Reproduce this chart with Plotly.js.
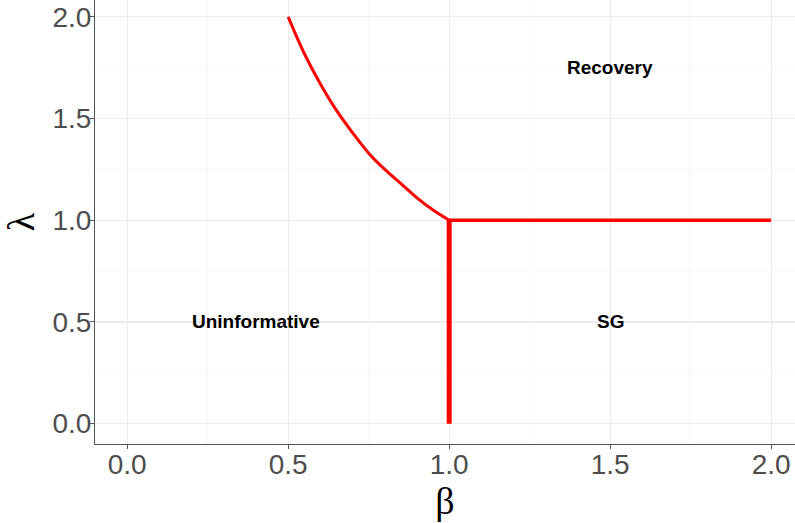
<!DOCTYPE html>
<html>
<head>
<meta charset="utf-8">
<script src="https://cdn.plot.ly/plotly-3.0.1.min.js"></script>
<style>html,body{margin:0;padding:0;background:#fff;}#plot{width:795px;height:523px;}</style>
</head>
<body>
<div id="plot"></div>
<script>
// Boundary curve
const curveBeta   = [0.5, 0.55, 0.6, 0.65, 0.7, 0.75, 0.8, 0.85, 0.9, 0.95, 1.0];
const curveLambda = [2.0, 1.82, 1.67, 1.54, 1.43, 1.33, 1.25, 1.18, 1.11, 1.05, 1.0];
// Horizontal boundary
const hBeta   = [1.0, 2.0];
const hLambda = [1.0, 1.0];
// Vertical boundary
const vBeta   = [1.0, 1.0];
const vLambda = [0.0, 1.0];
// Region labels
const labelText   = ["Recovery", "Uninformative", "SG"];
const labelBeta   = [1.5, 0.4, 1.5];
const labelLambda = [1.75, 0.5, 0.5];
const tickVals = [0, 0.5, 1, 1.5, 2];
const tickText = ["0.0", "0.5", "1.0", "1.5", "2.0"];

const traces = [
  {x: curveBeta, y: curveLambda, mode: 'lines', line: {color: '#ff0000', width: 3, shape: 'spline', smoothing: 1}, hoverinfo: 'skip'},
  {x: hBeta, y: hLambda, mode: 'lines', line: {color: '#ff0000', width: 3.5}, hoverinfo: 'skip'},
  {x: vBeta, y: vLambda, mode: 'lines', line: {color: '#ff0000', width: 5}, hoverinfo: 'skip'}
];

const annotations = labelText.map((t, i) => ({
  x: labelBeta[i], y: labelLambda[i], xref: 'x', yref: 'y',
  text: '<b>' + t + '</b>', showarrow: false,
  font: {family: 'Liberation Sans, Arial, sans-serif', size: 19, color: '#000'}
}));

const axisCommon = {
  showline: true, linecolor: '#555', linewidth: 1,
  ticks: 'outside', ticklen: 4, tickcolor: '#555', tickwidth: 1,
  showgrid: true, gridcolor: '#ebebeb', gridwidth: 1.1,
  zeroline: false,
  tickvals: tickVals, ticktext: tickText,
  tickfont: {family: 'Liberation Sans, Arial, sans-serif', size: 28, color: '#4d4d4d'},
  minor: {dtick: 0.25, tick0: 0, showgrid: true, gridcolor: '#f2f2f2', gridwidth: 0.6, ticks: ''}
};

const layout = {
  width: 795, height: 523,
  margin: {l: 95, r: 0, t: 0, b: 79},
  paper_bgcolor: '#fff', plot_bgcolor: '#fff',
  showlegend: false,
  xaxis: Object.assign({}, axisCommon, {
    range: [-0.1, 2.074],
    ticklabelstandoff: -9,
    title: {text: 'β', font: {family: 'Liberation Serif, Times New Roman, serif', size: 38, color: '#000'}, standoff: 4}
  }),
  yaxis: Object.assign({}, axisCommon, {
    range: [-0.1, 2.083],
    ticklabelstandoff: -7,
    title: {text: 'λ', font: {family: 'Liberation Serif, Times New Roman, serif', size: 38, color: '#000'}, standoff: 6}
  }),
  annotations: annotations
};

Plotly.newPlot('plot', traces, layout, {staticPlot: true, displayModeBar: false});
</script>
</body>
</html>
